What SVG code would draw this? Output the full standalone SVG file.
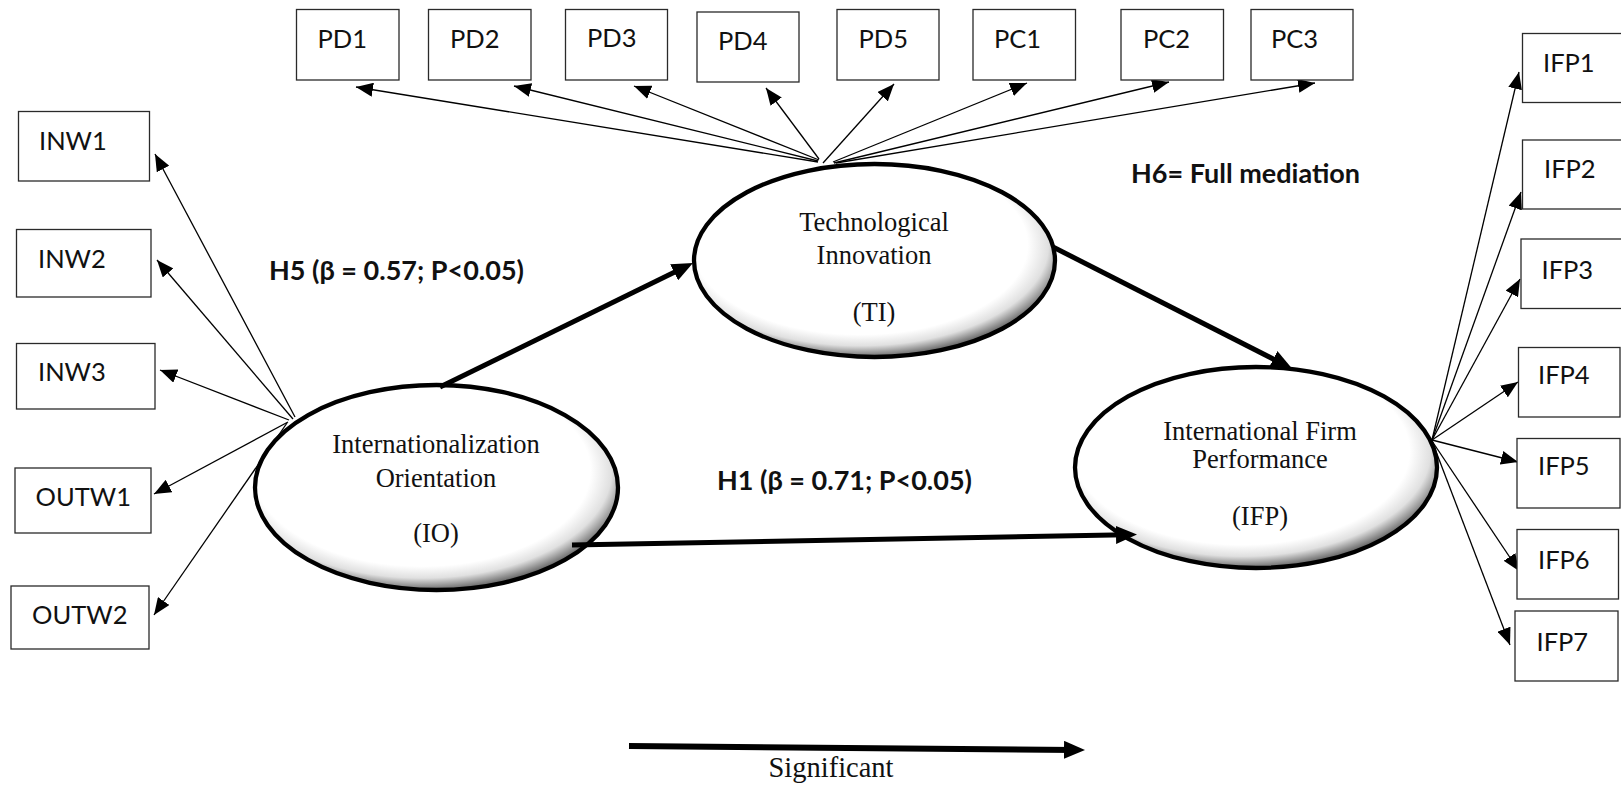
<svg xmlns="http://www.w3.org/2000/svg" width="1621" height="791" viewBox="0 0 1621 791">
<style>
.box{fill:#fff;stroke:#2a2a2a;stroke-width:1.3}
.lbl{font-family:Lato,"Liberation Sans",sans-serif;font-size:25.5px;fill:#111}
.hyp{font-family:Lato,"Liberation Sans",sans-serif;font-size:27px;font-weight:bold;fill:#111}
.lat{fill:url(#shade);stroke:#000;stroke-width:4.3}
.ser{font-family:"Liberation Serif","Times New Roman",serif;font-size:26.5px;fill:#111;text-anchor:middle}
.thin{stroke:#000;stroke-width:1.3;fill:none;marker-end:url(#ah)}
.thick{stroke:#000;stroke-width:5;fill:none;marker-end:url(#ahb)}
</style>
<defs>
<radialGradient id="shade" cx="0.46" cy="0.42" r="0.58">
<stop offset="0" stop-color="#fff"/>
<stop offset="0.8" stop-color="#fff"/>
<stop offset="0.9" stop-color="#e0e0e0"/>
<stop offset="1" stop-color="#6a6a6a"/>
</radialGradient>
<marker id="ah" markerWidth="18" markerHeight="14" refX="17" refY="7" orient="auto" markerUnits="userSpaceOnUse"><path d="M0,0 L17,7 L0,14 z" fill="#000"/></marker>
<marker id="ahb" markerWidth="22" markerHeight="18" refX="11" refY="9" orient="auto" markerUnits="userSpaceOnUse"><path d="M0,0 L21,9 L0,18 z" fill="#000"/></marker>
</defs>
<rect width="1621" height="791" fill="#fff"/>

<g id="connectors">
<line class="thin" x1="295" y1="417" x2="155" y2="154"/>
<line class="thin" x1="293" y1="419" x2="157" y2="260"/>
<line class="thin" x1="289" y1="420" x2="160" y2="370"/>
<line class="thin" x1="288" y1="422" x2="154" y2="494"/>
<line class="thin" x1="287" y1="423" x2="154" y2="615"/>
<line class="thin" x1="818" y1="162" x2="356" y2="87"/>
<line class="thin" x1="818" y1="161" x2="514" y2="86"/>
<line class="thin" x1="819" y1="160" x2="634" y2="86"/>
<line class="thin" x1="819" y1="159" x2="766" y2="88"/>
<line class="thin" x1="823" y1="163" x2="894" y2="84"/>
<line class="thin" x1="833" y1="162" x2="1027" y2="83"/>
<line class="thin" x1="834" y1="163" x2="1169" y2="82"/>
<line class="thin" x1="836" y1="163" x2="1315" y2="83"/>
<line class="thin" x1="1432" y1="440" x2="1519" y2="72"/>
<line class="thin" x1="1432" y1="440" x2="1521" y2="192"/>
<line class="thin" x1="1432" y1="440" x2="1520" y2="279"/>
<line class="thin" x1="1432" y1="440" x2="1518" y2="382"/>
<line class="thin" x1="1432" y1="440" x2="1518" y2="462"/>
<line class="thin" x1="1432" y1="441" x2="1519" y2="571"/>
<line class="thin" x1="1432" y1="441" x2="1510" y2="645"/>
</g>

<g id="IO"><ellipse class="lat" cx="436.5" cy="487.5" rx="181.5" ry="102.5"/>
<text class="ser" x="436" y="453">Internationalization</text>
<text class="ser" x="436" y="487">Orientation</text>
<text class="ser" x="436" y="542">(IO)</text></g>
<g id="TI"><ellipse class="lat" cx="874.5" cy="260.5" rx="180.5" ry="96.5"/>
<text class="ser" x="874" y="231">Technological</text>
<text class="ser" x="874" y="264">Innovation</text>
<text class="ser" x="874" y="321">(TI)</text></g>
<g id="IFP"><ellipse class="lat" cx="1256" cy="467.5" rx="181" ry="100.5"/>
<text class="ser" x="1260" y="440">International Firm</text>
<text class="ser" x="1260" y="468">Performance</text>
<text class="ser" x="1260" y="525">(IFP)</text></g>

<g id="structural">
<line class="thick" x1="440" y1="387" x2="684" y2="267.4"/>
<line class="thick" x1="1053" y1="247" x2="1283.1" y2="364"/>
<line class="thick" x1="572" y1="545" x2="1127" y2="534.7"/>
</g>

<g id="INW1"><rect class="box" x="18.5" y="111.5" width="131" height="69.5"/><text class="lbl" x="39" y="150">INW1</text></g>
<g id="INW2"><rect class="box" x="16.5" y="229.5" width="134.5" height="67.5"/><text class="lbl" x="38" y="267.5">INW2</text></g>
<g id="INW3"><rect class="box" x="16.5" y="343.5" width="138.5" height="65.5"/><text class="lbl" x="38" y="381">INW3</text></g>
<g id="OUTW1"><rect class="box" x="15" y="468" width="136" height="65"/><text class="lbl" x="35.5" y="506">OUTW1</text></g>
<g id="OUTW2"><rect class="box" x="11" y="586" width="138" height="63"/><text class="lbl" x="32" y="624">OUTW2</text></g>

<g id="PD1"><rect class="box" x="296.5" y="9.5" width="102.5" height="70.5"/><text class="lbl" x="317.5" y="48">PD1</text></g>
<g id="PD2"><rect class="box" x="428.5" y="9.5" width="102.5" height="70.5"/><text class="lbl" x="450" y="48">PD2</text></g>
<g id="PD3"><rect class="box" x="565.5" y="9.5" width="102" height="70.5"/><text class="lbl" x="587" y="47">PD3</text></g>
<g id="PD4"><rect class="box" x="697" y="12" width="102" height="70"/><text class="lbl" x="718" y="50">PD4</text></g>
<g id="PD5"><rect class="box" x="837" y="9.5" width="102" height="70.5"/><text class="lbl" x="858.5" y="47.5">PD5</text></g>
<g id="PC1"><rect class="box" x="973" y="9.5" width="102.5" height="70.5"/><text class="lbl" x="994" y="47.5">PC1</text></g>
<g id="PC2"><rect class="box" x="1121" y="9.5" width="102.5" height="70.5"/><text class="lbl" x="1143" y="47.5">PC2</text></g>
<g id="PC3"><rect class="box" x="1251" y="9.5" width="102" height="70.5"/><text class="lbl" x="1271" y="47.5">PC3</text></g>

<g id="IFP1"><rect class="box" x="1522.5" y="33.5" width="101" height="69"/><text class="lbl" x="1543" y="72">IFP1</text></g>
<g id="IFP2"><rect class="box" x="1522.5" y="140" width="101" height="69"/><text class="lbl" x="1544" y="178">IFP2</text></g>
<g id="IFP3"><rect class="box" x="1521" y="239" width="102" height="69.5"/><text class="lbl" x="1541.5" y="279">IFP3</text></g>
<g id="IFP4"><rect class="box" x="1518.5" y="347.5" width="101.5" height="69.5"/><text class="lbl" x="1538" y="384">IFP4</text></g>
<g id="IFP5"><rect class="box" x="1517" y="438.5" width="103" height="69.5"/><text class="lbl" x="1538" y="475">IFP5</text></g>
<g id="IFP6"><rect class="box" x="1517" y="529.5" width="101.5" height="69.5"/><text class="lbl" x="1538" y="568.5">IFP6</text></g>
<g id="IFP7"><rect class="box" x="1515" y="611" width="103" height="70"/><text class="lbl" x="1536.5" y="651">IFP7</text></g>

<g id="labels">
<text class="hyp" x="269" y="280">H5 (β = 0.57; P&lt;0.05)</text>
<text class="hyp" x="717" y="490">H1 (β = 0.71; P&lt;0.05)</text>
<text class="hyp" x="1131" y="183">H6= Full mediation</text>
</g>

<g id="legend">
<line class="thick" x1="629" y1="746" x2="1075" y2="749.9" style="stroke-width:6"/>
<text class="ser" x="831" y="777" style="font-size:28.5px">Significant</text>
</g>
</svg>
